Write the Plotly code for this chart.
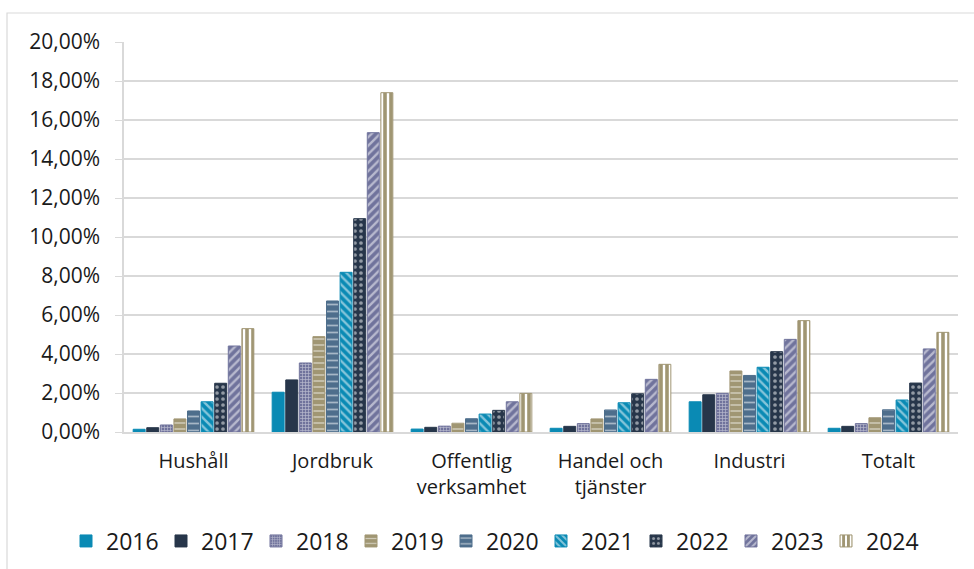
import plotly.graph_objects as go

categories = ["Hushåll", "Jordbruk", "Offentlig<br>verksamhet", "Handel och<br>tjänster", "Industri", "Totalt"]
years = ["2016", "2017", "2018", "2019", "2020", "2021", "2022", "2023", "2024"]

# share per sector and year, in percent
values = {
    "2016": [0.14, 2.04, 0.15, 0.19, 1.55, 0.19],
    "2017": [0.22, 2.67, 0.24, 0.29, 1.91, 0.29],
    "2018": [0.36, 3.54, 0.30, 0.43, 1.98, 0.43],
    "2019": [0.67, 4.89, 0.45, 0.67, 3.13, 0.73],
    "2020": [1.08, 6.72, 0.68, 1.13, 2.90, 1.14],
    "2021": [1.55, 8.19, 0.92, 1.50, 3.32, 1.64],
    "2022": [2.50, 10.94, 1.11, 1.96, 4.12, 2.51],
    "2023": [4.41, 15.35, 1.55, 2.70, 4.75, 4.26],
    "2024": [5.30, 17.40, 1.98, 3.47, 5.71, 5.11],
}

tick_vals = [0, 2, 4, 6, 8, 10, 12, 14, 16, 18, 20]
tick_text = ["0,00%", "2,00%", "4,00%", "6,00%", "8,00%", "10,00%", "12,00%",
             "14,00%", "16,00%", "18,00%", "20,00%"]

TEAL = "#0A8AB4"
NAVY = "#27364A"
LAV = "#70739C"
KHAKI = "#A09673"
STEEL = "#4E6E8C"

styles = {
    "2016": dict(color=TEAL, pattern=None),
    "2017": dict(color=NAVY, pattern=None),
    "2018": dict(color=LAV, pattern=dict(shape="+", bgcolor=LAV, fgcolor="white", size=3, solidity=0.4, fillmode="overlay")),
    "2019": dict(color=KHAKI, pattern=dict(shape="-", bgcolor=KHAKI, fgcolor="white", size=6, solidity=0.25, fillmode="overlay")),
    "2020": dict(color=STEEL, pattern=dict(shape="-", bgcolor=STEEL, fgcolor="white", size=7, solidity=0.25, fillmode="overlay")),
    "2021": dict(color=TEAL, pattern=dict(shape="\\", bgcolor=TEAL, fgcolor="white", size=6, solidity=0.4, fillmode="overlay")),
    "2022": dict(color=NAVY, pattern=dict(shape=".", bgcolor=NAVY, fgcolor="white", size=6, solidity=0.3, fillmode="overlay")),
    "2023": dict(color=LAV, pattern=dict(shape="/", bgcolor=LAV, fgcolor="white", size=6, solidity=0.4, fillmode="overlay")),
    "2024": dict(color=KHAKI, pattern=dict(shape="|", bgcolor="white", fgcolor=KHAKI, size=6, solidity=0.6, fillmode="replace")),
}

FONT = "Open Sans"
W, H = 974, 569

fig = go.Figure()
for y in years:
    st = styles[y]
    marker = dict(color=st["color"], line=dict(color=st["color"], width=1))
    if st["pattern"] is not None:
        marker["pattern"] = st["pattern"]
    fig.add_trace(go.Bar(name=y, x=categories, y=values[y], marker=marker))

fig.update_layout(
    width=W, height=H,
    margin=dict(l=0, r=0, t=0, b=0, autoexpand=False),
    paper_bgcolor="white", plot_bgcolor="white",
    barmode="group", bargap=0.12, bargroupgap=0.12,
    font=dict(family=FONT, color="#1a1a1a", size=20),
    showlegend=True,
    legend=dict(orientation="h", x=66 / W, xanchor="left",
                y=28 / H, yanchor="middle",
                font=dict(size=23, family=FONT), itemwidth=30, tracegroupgap=0,
                entrywidth=50, entrywidthmode="pixels",
                itemclick=False),
    shapes=[dict(type="rect", xref="paper", yref="paper",
                 x0=7 / W, x1=1.05, y0=-0.05, y1=(H - 13) / H,
                 line=dict(color="#D9D9D9", width=1.2), fillcolor="rgba(0,0,0,0)", layer="below")],
)

fig.update_yaxes(range=[0, 20], tickvals=tick_vals, ticktext=tick_text,
                 domain=[(H - 432) / H, (H - 42) / H],
                 showgrid=True, gridcolor="#D9D9D9", gridwidth=1.5,
                 showline=True, linecolor="#D9D9D9", linewidth=1.5,
                 ticks="outside", ticklen=7, tickcolor="#D9D9D9",
                 ticklabelstandoff=11,
                 tickfont=dict(size=21, family=FONT), zeroline=False)
fig.update_xaxes(domain=[124 / W, 958 / W],
                 showline=True, linecolor="#D9D9D9", linewidth=1.5,
                 ticklabelstandoff=10,
                 tickfont=dict(size=20, family=FONT), ticks="")

fig.write_html("out.html")
